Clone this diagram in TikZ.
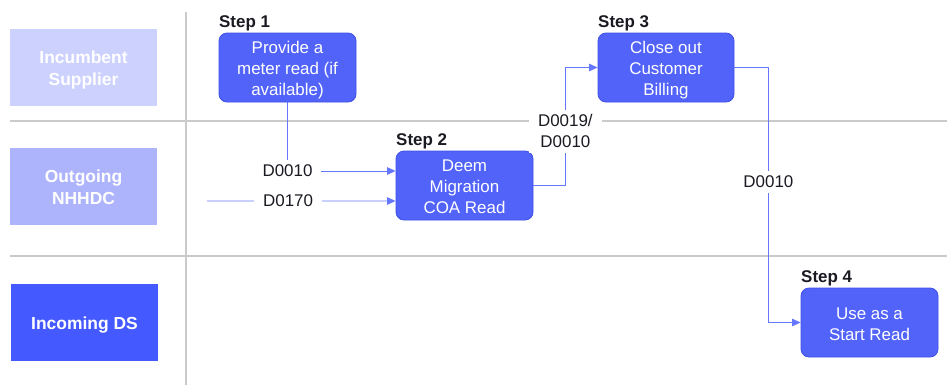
\documentclass[tikz,border=0pt]{standalone}
\usepackage{fontspec}
\setmainfont{Liberation Sans}
\usetikzlibrary{arrows.meta,calc}
\definecolor{laneA}{HTML}{CDD1FE}
\definecolor{laneB}{HTML}{AEB4FC}
\definecolor{laneC}{HTML}{4459FF}
\definecolor{boxfill}{HTML}{5263F9}
\definecolor{boxedge}{HTML}{3F50E6}
\definecolor{flowc}{HTML}{6677FF}
\definecolor{gridc}{HTML}{CACACA}
\definecolor{txt}{HTML}{1A1A22}
\newcommand{\mytopstrut}{\rule{0pt}{18.2bp}}
\newcommand{\mybotstrut}{\rule[-4bp]{0pt}{4bp}}
\tikzset{
  x=1bp, y=-1bp,
  lane/.style={minimum width=147bp, minimum height=77bp, inner sep=0pt, text=white,
    font=\fontsize{17.5}{22}\selectfont\bfseries, align=center},
  stepbox/.style={draw=boxedge, fill=boxfill, rounded corners=8bp, minimum width=137bp,
    minimum height=69bp, inner sep=0pt, text=white, align=center,
    font=\fontsize{17}{21}\selectfont, line width=0.8bp},
  steplabel/.style={anchor=base west, inner sep=0pt, text=txt,
    font=\fontsize{17}{21}\selectfont\bfseries},
  flow/.style={draw=flowc, line width=0.9bp, -{Triangle[length=8.5bp,width=7.5bp]}},
  msg/.style={fill=white, text=txt, inner xsep=9bp, inner ysep=5bp, align=center,
    font=\fontsize{17}{21}\selectfont},
  grid/.style={draw=gridc, line width=1.3bp}
}
\begin{document}
\begin{tikzpicture}
\useasboundingbox (0,0) rectangle (947,385);
% grid lines
\draw[grid] (186,12) -- (186,385);
\draw[grid] (10,121) -- (947,121);
\draw[grid] (10,256) -- (947,256);
% lanes
\node[lane, fill=laneA] (l1) at (83.5,67) {\mytopstrut Incumbent\\Supplier\mybotstrut};
\node[lane, fill=laneB] (l2) at (83.5,186.5) {\mytopstrut Outgoing\\NHHDC\mybotstrut};
\node[lane, fill=laneC] (l3) at (84.5,322.5) {\mytopstrut Incoming DS\mybotstrut};
% steps
\node[stepbox] (s1) at (287.5,67.5) {\mytopstrut Provide a\\meter read (if\\available)\mybotstrut};
\node[stepbox] (s2) at (464.5,185.5) {\mytopstrut Deem\\Migration\\COA Read\mybotstrut};
\node[stepbox, minimum width=136bp] (s3) at (666,67.5) {\mytopstrut Close out\\Customer\\Billing\mybotstrut};
\node[stepbox] (s4) at (869.5,322.5) {\mytopstrut Use as a\\Start Read\mybotstrut};
\node[steplabel] (t1) at (219,27) {Step 1};
\node[steplabel] (t2) at (396,145) {Step 2};
\node[steplabel] (t3) at (598,27) {Step 3};
\node[steplabel] (t4) at (801,282) {Step 4};
% connectors
\coordinate (src) at (207,201);
\draw[flow] (s1.south) |- node[msg, pos=0.5] (m1) {D0010} ($(s2.west)+(0,-14.5)$);
\draw[flow] (src) -- node[msg, pos=0.43] (m2) {D0170} ($(s2.west)+(0,15.5)$);
\draw[flow] (s2.east) -- ++(32,0) |- node[msg, pos=0.23] (m3) {D0019/\\D0010} (s3.west);
\draw[flow] (s3.east) -- ++(34,0) |- node[msg, pos=0.224] (m4) {D0010} (s4.west);
\end{tikzpicture}
\end{document}
